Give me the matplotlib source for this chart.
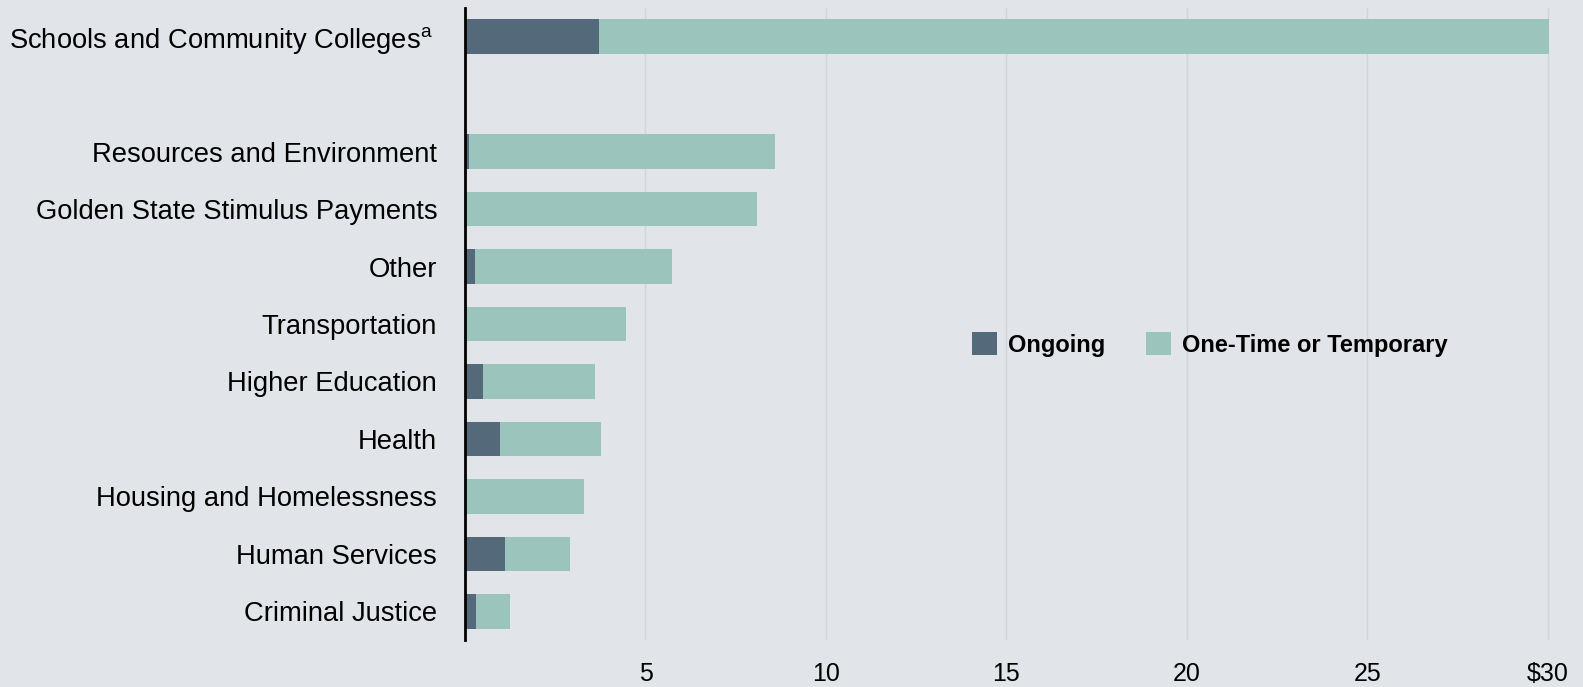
import matplotlib
matplotlib.use("Agg")
import matplotlib.pyplot as plt
from matplotlib.patches import Patch

categories = ["Schools and Community Colleges$^{\\mathrm{a}}$", "",
              "Resources and Environment", "Golden State Stimulus Payments",
              "Other", "Transportation", "Higher Education", "Health",
              "Housing and Homelessness", "Human Services", "Criminal Justice"]
ongoing = [3.70, 0, 0.11, 0.0, 0.27, 0.0, 0.49, 0.98, 0.0, 1.11, 0.30]
one_time = [26.34, 0, 8.47, 8.09, 5.46, 4.46, 3.11, 2.80, 3.30, 1.79, 0.95]
xticks = [5, 10, 15, 20, 25, 30]
xtick_labels = ["5", "10", "15", "20", "25", "$30"]

plt.rcParams['font.family'] = ['Liberation Sans', 'DejaVu Sans']
plt.rcParams['mathtext.fontset'] = 'custom'
plt.rcParams['mathtext.rm'] = 'Liberation Sans'

BG = "#E1E5EA"
C_ON = "#546A7B"
C_OT = "#9BC4BD"

fig = plt.figure(figsize=(15.83, 6.87), dpi=100, facecolor=BG)
ax = fig.add_axes([465/1583, 47/687, (1566-465)/1583, (679-47)/687])
ax.set_facecolor(BG)

y = list(range(len(categories)))
ax.barh(y, ongoing, height=0.6, color=C_ON, edgecolor=C_ON, linewidth=0, zorder=3)
ax.barh(y, one_time, left=ongoing, height=0.6, color=C_OT, linewidth=0, zorder=3)

ax.set_xlim(0, 30.5)
ax.set_ylim(10.5, -0.5)
ax.set_yticks(y)
ax.set_yticklabels(categories, fontsize=19.7)
for lbl in ax.get_yticklabels():
    if lbl.get_text().startswith("Schools"):
        lbl.set_x(-0.004)
ax.set_xticks(xticks)
ax.set_xticklabels(xtick_labels, fontsize=18)
ax.tick_params(axis='y', length=0, pad=20)
ax.tick_params(axis='x', length=0, pad=16)
ax.grid(axis='x', color="#D0D5DA", linewidth=1.0, zorder=0)
for s in ['top', 'right', 'bottom']:
    ax.spines[s].set_visible(False)
ax.spines['left'].set_color('black')
ax.spines['left'].set_linewidth(2.0)
ax.spines['left'].set_zorder(5)

handles = [Patch(facecolor=C_ON, edgecolor='none', label="Ongoing"),
           Patch(facecolor=C_OT, edgecolor='none', label="One-Time or Temporary")]
fig.legend(handles=handles, loc='center left',
           bbox_to_anchor=(972/1583, 1 - 344.5/687), ncol=2, frameon=False,
           prop={'weight': 'bold', 'size': 17}, borderpad=0, borderaxespad=0,
           handlelength=1.06, handleheight=1.06, handletextpad=0.47,
           columnspacing=1.7)

fig.savefig("out.png", dpi=100, facecolor=BG)
